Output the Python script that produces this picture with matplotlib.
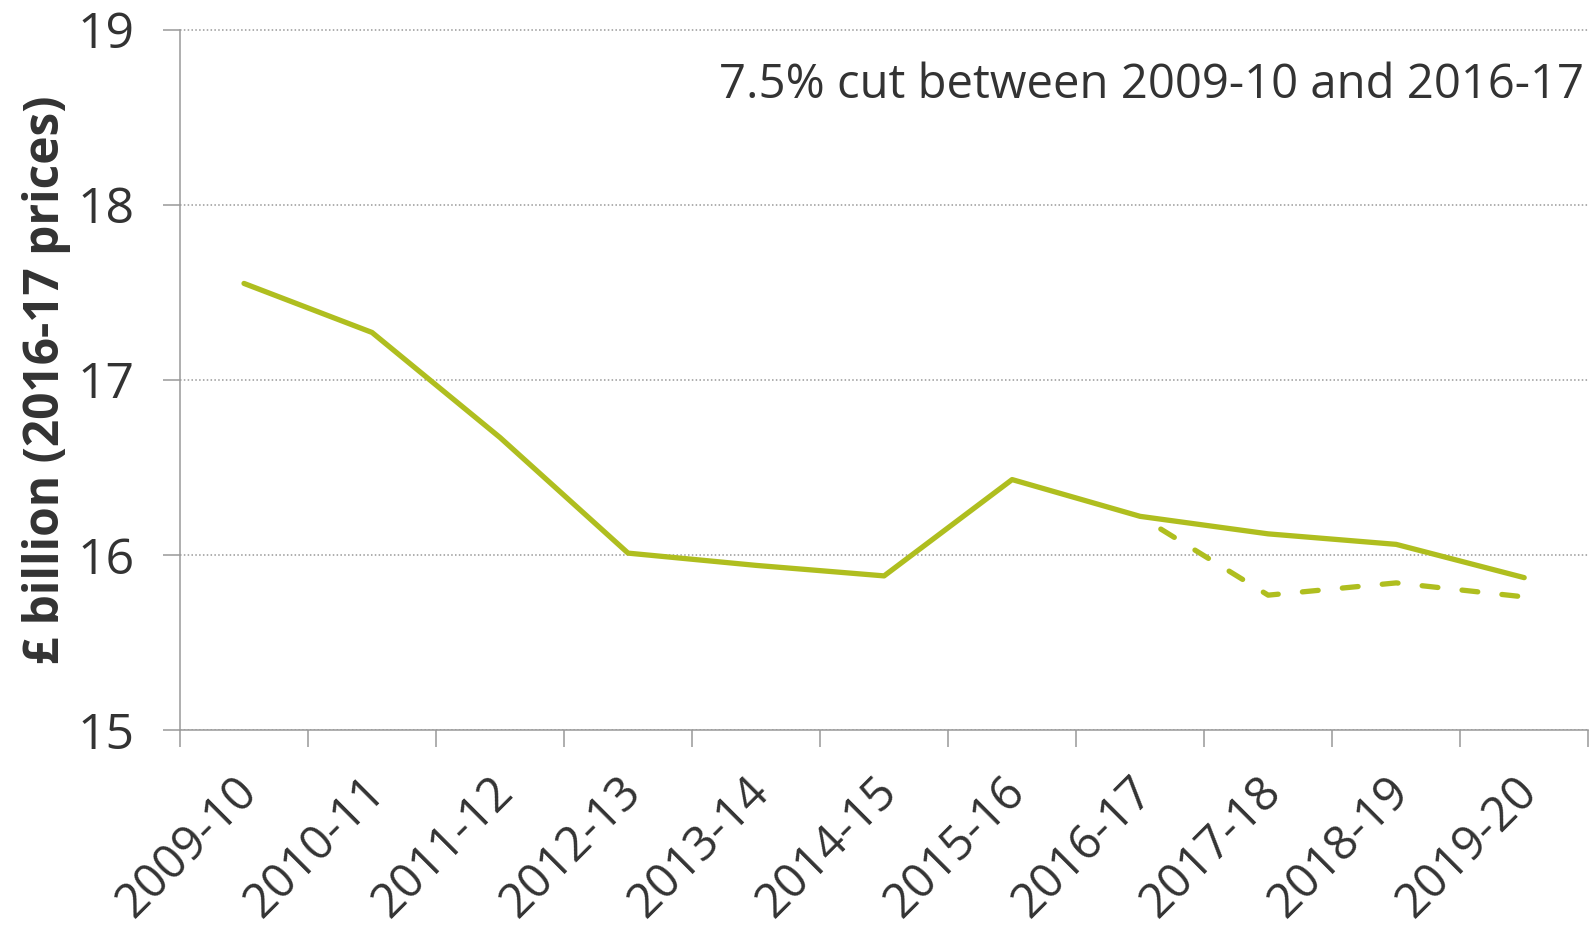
import matplotlib
matplotlib.use("Agg")
import matplotlib.pyplot as plt
import matplotlib.transforms as mtransforms
import numpy as np

plt.rcParams['font.family'] = ['Open Sans', 'DejaVu Sans']

years = ["2009-10", "2010-11", "2011-12", "2012-13", "2013-14", "2014-15",
         "2015-16", "2016-17", "2017-18", "2018-19", "2019-20"]
actual = [17.55, 17.27, 16.67, 16.01, 15.94, 15.88, 16.43, 16.22, 16.12, 16.06, 15.87]
alt_years = ["2016-17", "2017-18", "2018-19", "2019-20"]
alt_values = [16.22, 15.77, 15.84, 15.76]
annotation = "7.5% cut between 2009-10 and 2016-17"
ylabel = "£ billion (2016-17 prices)"
yticks = [15, 16, 17, 18, 19]

GREEN = "#AFBE1F"
GREY = "#999999"
TEXT = "#333333"

fig = plt.figure(figsize=(15.89, 9.26), dpi=100)
ax = fig.add_axes([180/1589, 1 - 730/926, 1 - 180/1589 - 0.0005, (730 - 29.5)/926])

idx = {y: i for i, y in enumerate(years)}
x = np.arange(len(years)) + 0.5
ax.plot(x, actual, color=GREEN, lw=3.8, solid_capstyle='round', solid_joinstyle='round', zorder=3)
xa = np.array([idx[y] for y in alt_years]) + 0.5
ax.plot(xa, alt_values, color=GREEN, lw=3.8, dash_capstyle='round', dash_joinstyle='round',
        ls=(3.0, (3.0, 4.6)), zorder=3)

ax.set_xlim(0, len(years))
ax.set_ylim(15, 19)
ax.set_yticks(yticks)
ax.set_yticklabels([str(v) for v in yticks], fontsize=36, color=TEXT)
ax.yaxis.grid(True, color=GREY, lw=1.1, ls=(0, (1, 1.5)))
ax.set_axisbelow(True)

ax.set_xticks(x)
ax.set_xticklabels(years, rotation=45, ha='right', va='center', rotation_mode='anchor',
                   fontsize=34, color=TEXT)
ax.tick_params(axis='x', which='major', length=0, pad=39)
offset = mtransforms.ScaledTranslation(6/100, 0, fig.dpi_scale_trans)
for lab in ax.get_xticklabels():
    lab.set_transform(lab.get_transform() + offset)
ax.set_xticks(np.arange(len(years) + 1), minor=True)
ax.tick_params(axis='x', which='minor', length=12, width=1.1, color=GREY)
ax.tick_params(axis='y', length=12, width=1.1, color=GREY, pad=21)

for s in ['top', 'right']:
    ax.spines[s].set_visible(False)
for s in ['left', 'bottom']:
    ax.spines[s].set_color(GREY)
    ax.spines[s].set_linewidth(1.1)

ax.set_ylabel(ylabel, fontsize=34.5, fontweight='bold', color=TEXT)
ax.yaxis.set_label_coords(-0.0775, 0.5)

ax.text(0.997, 0.92, annotation, transform=ax.transAxes, ha='right', va='center',
        fontsize=34, color=TEXT)

fig.savefig("out.png", dpi=100)
